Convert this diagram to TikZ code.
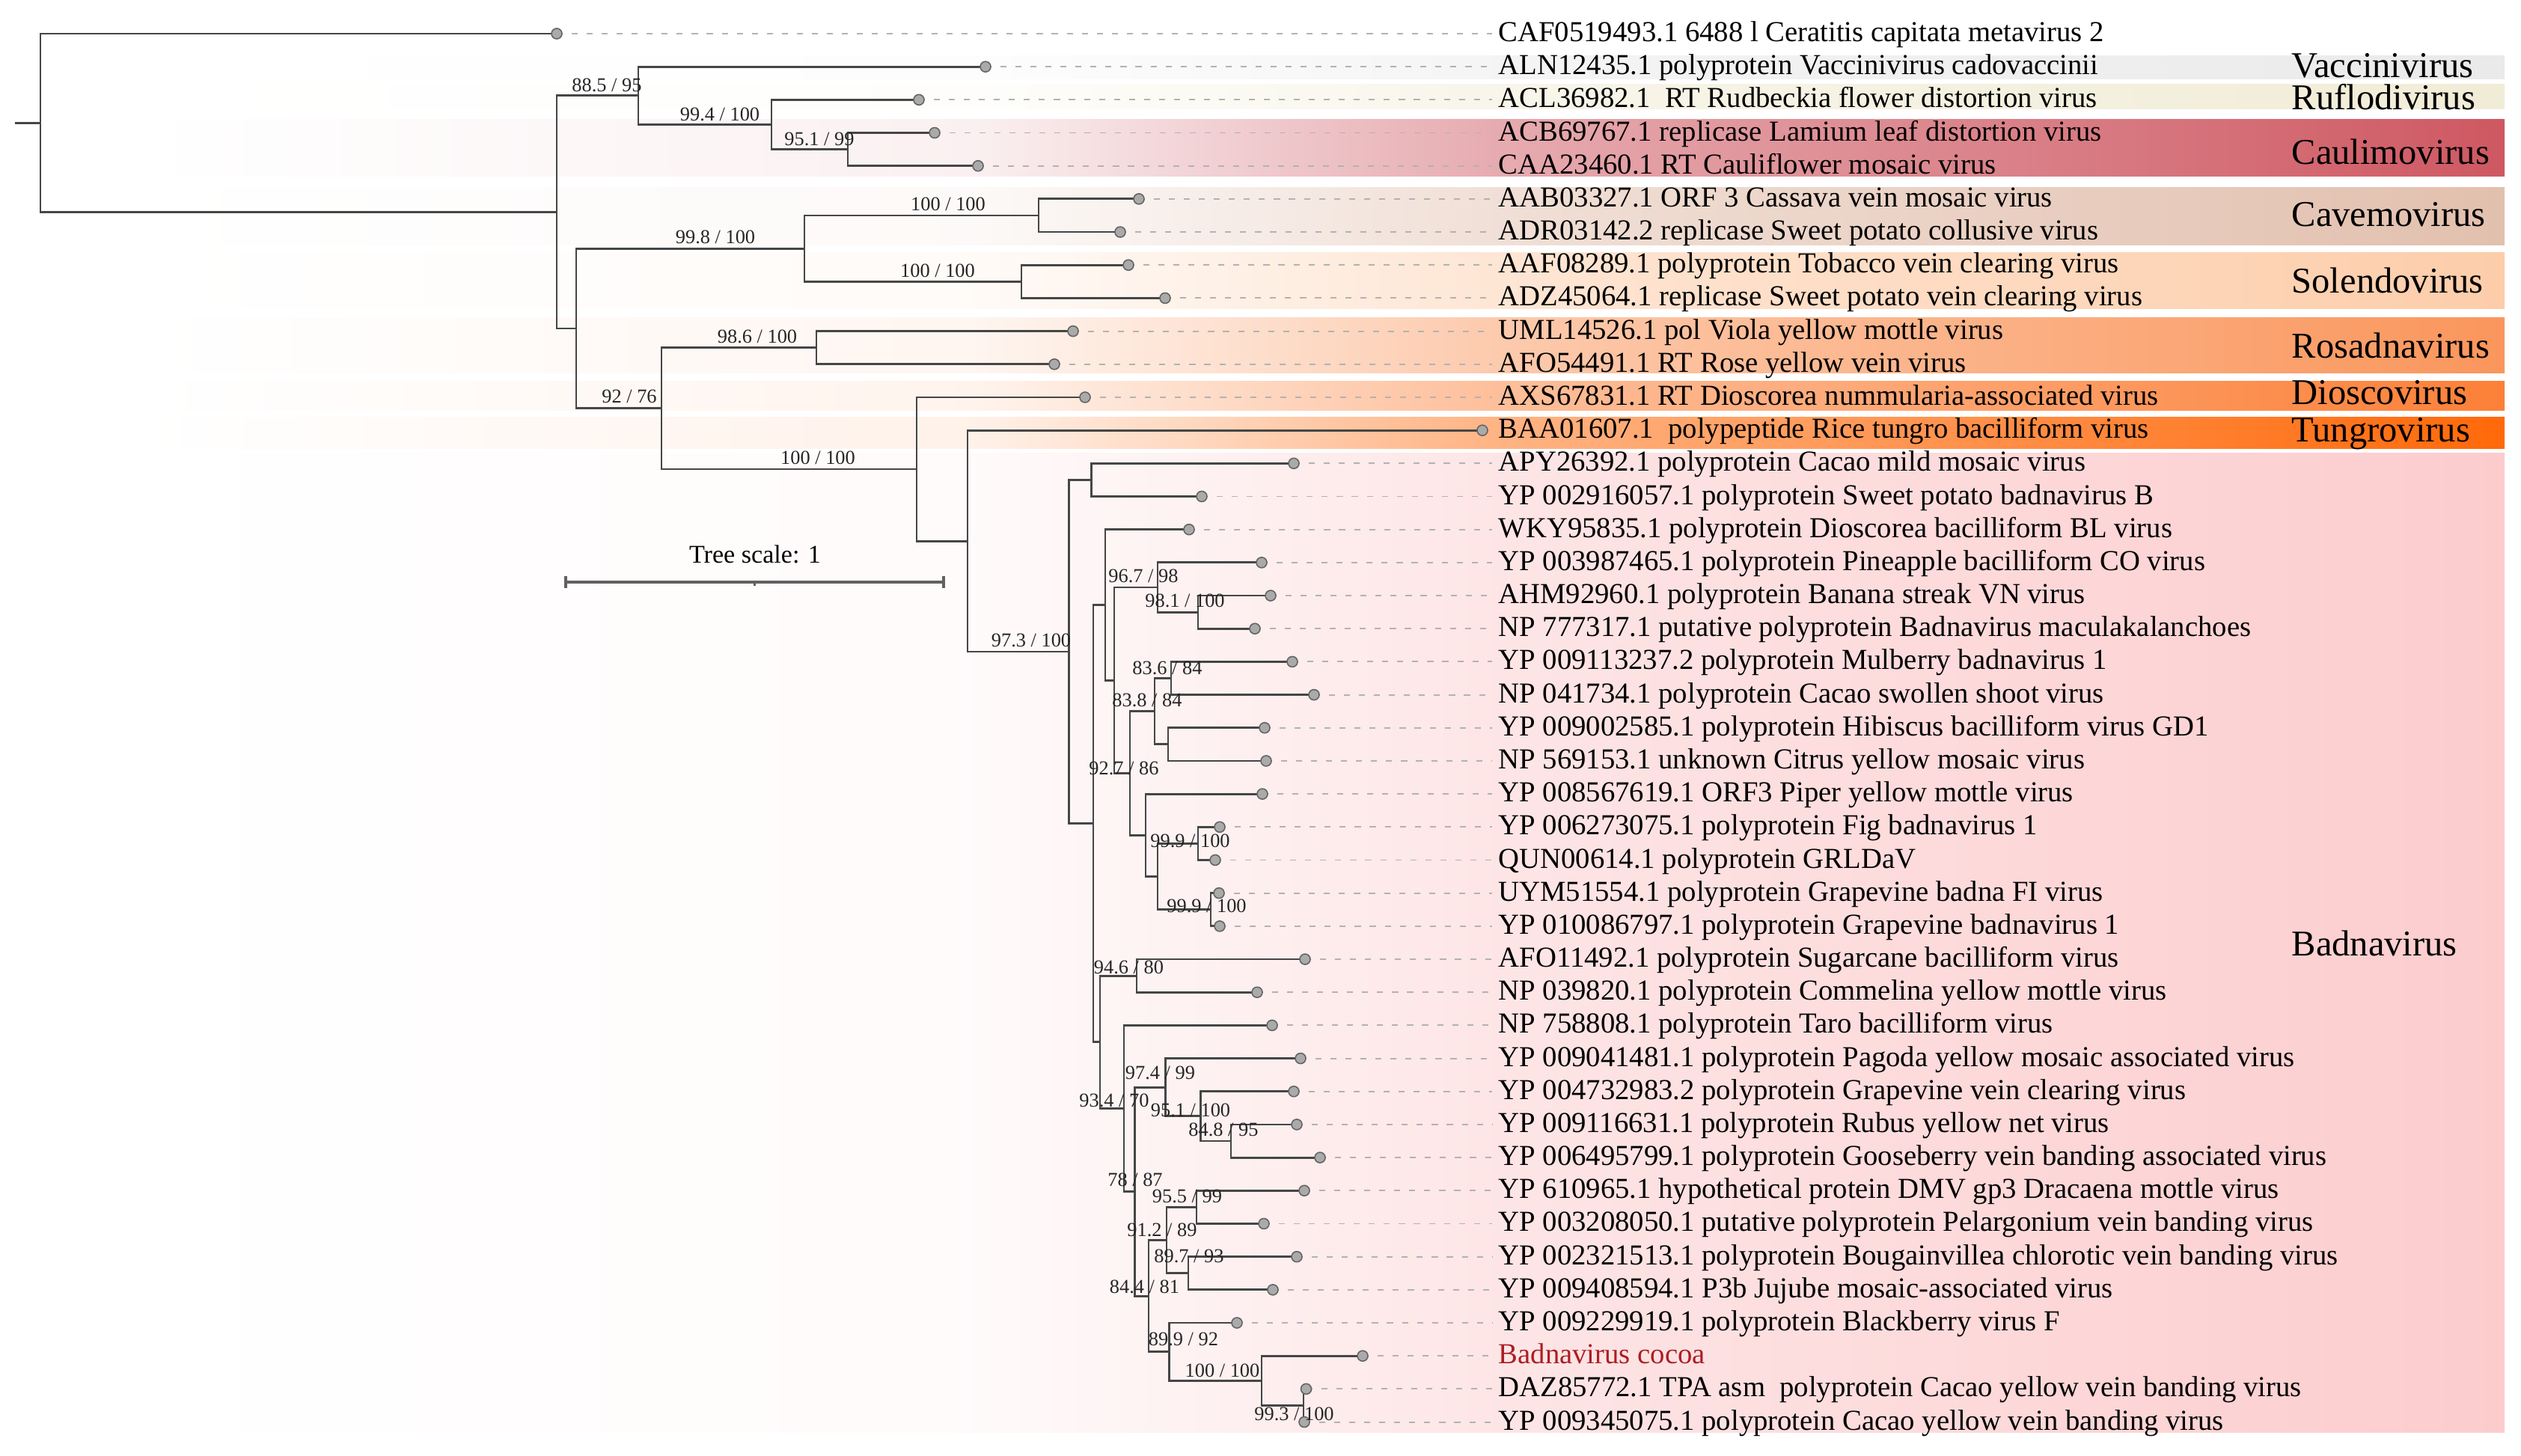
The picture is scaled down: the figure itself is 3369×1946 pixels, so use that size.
\documentclass[tikz,border=0pt]{standalone}
\usepackage{fontspec}
\setmainfont{Liberation Serif}
\usetikzlibrary{calc}
\definecolor{brc}{RGB}{70,70,70}
\definecolor{dotfill}{RGB}{170,170,170}
\definecolor{dotdraw}{RGB}{100,100,100}
\definecolor{cocoa}{RGB}{172,30,36}
\definecolor{cvacc}{RGB}{234,234,234}
\definecolor{crufl}{RGB}{241,236,214}
\definecolor{ccaul}{RGB}{206,88,98}
\definecolor{ccave}{RGB}{226,192,174}
\definecolor{csole}{RGB}{253,205,170}
\definecolor{crosa}{RGB}{250,150,92}
\definecolor{cdios}{RGB}{252,128,56}
\definecolor{ctung}{RGB}{255,105,10}
\definecolor{cbadn}{RGB}{252,204,205}
\newcommand\mkband[2]{%
  \pgfdeclarehorizontalshading{band#1}{100bp}{color(0bp)=(white); color(25bp)=(white);
    color(42.5bp)=(#2!9!white); color(53.5bp)=(#2!50!white); color(75bp)=(#2); color(100bp)=(#2)}}
\mkband{vacc}{cvacc}
\mkband{rufl}{crufl}
\mkband{caul}{ccaul}
\mkband{cave}{ccave}
\mkband{sole}{csole}
\mkband{rosa}{crosa}
\mkband{dios}{cdios}
\mkband{tung}{ctung}
\mkband{badn}{cbadn}
\tikzset{
  br/.style={draw=brc, line width=0.8pt, line join=miter},
  dashl/.style={draw=black!30, line width=0.55pt, dash pattern=on 2.3pt off 3.4pt},
  tipdot/.style={circle, fill=dotfill, draw=dotdraw, line width=0.45pt, inner sep=0pt, minimum size=0.14cm},
  leaf/.style={anchor=base west, inner sep=0pt, font=\fontsize{11}{13}\selectfont},
  supp/.style={anchor=base, inner sep=0pt, text=black!85, font=\fontsize{7.5}{9}\selectfont},
  genus/.style={anchor=base west, inner sep=0pt, font=\fontsize{13.8}{16}\selectfont},
  scalebar/.style={draw=black!62, line width=1.1pt},
}
\newcommand\mkclade[4]{%
  \coordinate (h#1) at (#2,0);
  \coordinate (#1) at ($(h#1 |- #3)!0.5!(h#1 |- #4)$);
  \draw[br] (#3) -- (h#1 |- #3) -- (h#1 |- #4) -- (#4);}
\begin{document}
\begin{tikzpicture}[x=0.01cm,y=-0.01cm]
\useasboundingbox (0,0) rectangle (3369,1946);
\fill[white] (0,0) rectangle (3369,1946);
% clade bands
\foreach \t/\b/\c in {75/106/vacc, 113/146/rufl, 160/236/caul, 251/328/cave, 338/413/sole, 425/499/rosa, 510/549/dios, 558/600/tung, 606/1914/badn}
  \shade[shading=band\c] (200,\t) rectangle (3347,\b);
% leaves
\foreach \i/\dx/\txt in {
0/744/CAF0519493.1 6488 l Ceratitis capitata metavirus 2,
1/1317/ALN12435.1 polyprotein Vaccinivirus cadovaccinii,
2/1228/ACL36982.1\ \ RT Rudbeckia flower distortion virus,
3/1249/ACB69767.1 replicase Lamium leaf distortion virus,
4/1307/CAA23460.1 RT Cauliflower mosaic virus,
5/1522/AAB03327.1 ORF 3 Cassava vein mosaic virus,
6/1497/ADR03142.2 replicase Sweet potato collusive virus,
7/1508/AAF08289.1 polyprotein Tobacco vein clearing virus,
8/1557/ADZ45064.1 replicase Sweet potato vein clearing virus,
9/1434/UML14526.1 pol Viola yellow mottle virus,
10/1409/AFO54491.1 RT Rose yellow vein virus,
11/1450/AXS67831.1 RT Dioscorea nummularia-associated virus,
12/1981/BAA01607.1\ \ polypeptide Rice tungro bacilliform virus,
13/1729/APY26392.1 polyprotein Cacao mild mosaic virus,
14/1606/YP 002916057.1 polyprotein Sweet potato badnavirus B,
15/1589/WKY95835.1 polyprotein Dioscorea bacilliform BL virus,
16/1686/YP 003987465.1 polyprotein Pineapple bacilliform CO virus,
17/1698/AHM92960.1 polyprotein Banana streak VN virus,
18/1677/NP 777317.1 putative polyprotein Badnavirus maculakalanchoes,
19/1727/YP 009113237.2 polyprotein Mulberry badnavirus 1,
20/1756/NP 041734.1 polyprotein Cacao swollen shoot virus,
21/1690/YP 009002585.1 polyprotein Hibiscus bacilliform virus GD1,
22/1692/NP 569153.1 unknown Citrus yellow mosaic virus,
23/1687/YP 008567619.1 ORF3 Piper yellow mottle virus,
24/1630/YP 006273075.1 polyprotein Fig badnavirus 1,
25/1624/QUN00614.1 polyprotein GRLDaV,
26/1629/UYM51554.1 polyprotein Grapevine badna FI virus,
27/1630/YP 010086797.1 polyprotein Grapevine badnavirus 1,
28/1744/AFO11492.1 polyprotein Sugarcane bacilliform virus,
29/1680/NP 039820.1 polyprotein Commelina yellow mottle virus,
30/1700/NP 758808.1 polyprotein Taro bacilliform virus,
31/1738/YP 009041481.1 polyprotein Pagoda yellow mosaic associated virus,
32/1729/YP 004732983.2 polyprotein Grapevine vein clearing virus,
33/1733/YP 009116631.1 polyprotein Rubus yellow net virus,
34/1764/YP 006495799.1 polyprotein Gooseberry vein banding associated virus,
35/1743/YP 610965.1 hypothetical protein DMV gp3 Dracaena mottle virus,
36/1689/YP 003208050.1 putative polyprotein Pelargonium vein banding virus,
37/1733/YP 002321513.1 polyprotein Bougainvillea chlorotic vein banding virus,
38/1701/YP 009408594.1 P3b Jujube mosaic-associated virus,
39/1653/YP 009229919.1 polyprotein Blackberry virus F,
40/1821/{\color{cocoa}Badnavirus cocoa},
41/1745.5/DAZ85772.1 TPA asm\ \ polyprotein Cacao yellow vein banding virus,
42/1743/YP 009345075.1 polyprotein Cacao yellow vein banding virus}{
  \pgfmathsetmacro\yy{45+44.18*\i}
  \coordinate (L\i) at (\dx,\yy);
  \coordinate (E\i) at (1994,\yy);
  \node[leaf] (T\i) at (2002,\yy+10.5) {\txt};
  \draw[dashl] (L\i) -- (E\i);
}
% tree (bottom-up)
\mkclade{n951}{1133}{L3}{L4}
\mkclade{n994}{1031}{L2}{n951}
\mkclade{n885}{853}{L1}{n994}
\mkclade{cA}{1388}{L5}{L6}
\mkclade{cB}{1365}{L7}{L8}
\mkclade{n998}{1075}{cA}{cB}
\mkclade{n986}{1091}{L9}{L10}
\mkclade{n981}{1601}{L17}{L18}
\mkclade{nSixSeven}{1547}{L16}{n981}
\mkclade{n836}{1565}{L19}{L20}
\mkclade{nV}{1561}{L21}{L22}
\mkclade{n838}{1543}{n836}{nV}
\mkclade{nFa}{1601}{L24}{L25}
\mkclade{nFb}{1618}{L26}{L27}
\mkclade{nW}{1547}{nFa}{nFb}
\mkclade{nU}{1531}{L23}{nW}
\mkclade{n927}{1510}{n838}{nU}
\mkclade{n967}{1489}{nSixSeven}{n927}
\mkclade{nR}{1477}{L15}{n967}
\mkclade{n946}{1519}{L28}{L29}
\mkclade{n848}{1645}{L33}{L34}
\mkclade{nFiveOne}{1604.5}{L32}{n848}
\mkclade{n974}{1557.6}{L31}{nFiveOne}
\mkclade{n955}{1599}{L35}{L36}
\mkclade{n897}{1588}{L37}{L38}
\mkclade{n912}{1559}{n955}{n897}
\mkclade{n993}{1742}{L41}{L42}
\mkclade{nHund}{1686}{L40}{n993}
\mkclade{n899}{1562.5}{L39}{nHund}
\mkclade{n844}{1535}{n912}{n899}
\mkclade{n78}{1516.5}{n974}{n844}
\mkclade{nX}{1502}{L30}{n78}
\mkclade{nS}{1470}{n946}{nX}
\mkclade{nQ}{1461}{nR}{nS}
\mkclade{nP}{1458.5}{L13}{L14}
\mkclade{n973}{1428.6}{nP}{nQ}
\mkclade{nT}{1293}{L12}{n973}
\mkclade{nTop}{1225}{L11}{nT}
\mkclade{n92}{884}{n986}{nTop}
\mkclade{nB}{770}{n998}{n92}
\mkclade{nA}{744}{n885}{nB}
\mkclade{root}{54}{L0}{nA}
\coordinate (rootstub) at ($(root)+(-34,0)$);
\draw[br] (rootstub) -- (root);
% tip dots
\foreach \i in {0,...,42} \node[tipdot] (D\i) at (L\i) {};
% support values
\node[supp] (S1) at (811,123) {88.5 / 95};
\node[supp] (S2) at (962,162) {99.4 / 100};
\node[supp] (S3) at (1095,195) {95.1 / 99};
\node[supp] (S4) at (956,326) {99.8 / 100};
\node[supp] (S5) at (1267,282) {100 / 100};
\node[supp] (S6) at (1253,370.5) {100 / 100};
\node[supp] (S7) at (1012,459) {98.6 / 100};
\node[supp] (S8) at (841,539) {92 / 76};
\node[supp] (S9) at (1093,621) {100 / 100};
\node[supp] (S10) at (1378,865) {97.3 / 100};
\node[supp] (S11) at (1528,779) {96.7 / 98};
\node[supp] (S12) at (1583.5,812) {98.1 / 100};
\node[supp] (S13) at (1560,901) {83.6 / 84};
\node[supp] (S14) at (1533,945) {83.8 / 84};
\node[supp] (S15) at (1502,1035) {92.7 / 86};
\node[supp] (S16) at (1590.5,1132.5) {99.9 / 100};
\node[supp] (S17) at (1612.5,1219) {99.9 / 100};
\node[supp] (S18) at (1508.5,1301) {94.6 / 80};
\node[supp] (S19) at (1489,1479) {93.4 / 70};
\node[supp] (S20) at (1550.5,1442) {97.4 / 99};
\node[supp] (S21) at (1591,1492) {95.1 / 100};
\node[supp] (S22) at (1635,1518) {84.8 / 95};
\node[supp] (S23) at (1517,1585) {78 / 87};
\node[supp] (S24) at (1553,1652) {91.2 / 89};
\node[supp] (S25) at (1586.5,1607) {95.5 / 99};
\node[supp] (S26) at (1589,1687.5) {89.7 / 93};
\node[supp] (S27) at (1529.5,1728) {84.4 / 81};
\node[supp] (S28) at (1581.5,1798.5) {89.9 / 92};
\node[supp] (S29) at (1633.5,1840) {100 / 100};
\node[supp] (S30) at (1729.5,1898) {99.3 / 100};
% genus labels
\node[genus] (G1) at (3062,104) {Vaccinivirus};
\node[genus] (G2) at (3062,147) {Ruflodivirus};
\node[genus] (G3) at (3062,220) {Caulimovirus};
\node[genus] (G4) at (3062,303) {Cavemovirus};
\node[genus] (G5) at (3062,392) {Solendovirus};
\node[genus] (G6) at (3062,479) {Rosadnavirus};
\node[genus] (G7) at (3062,541) {Dioscovirus};
\node[genus] (G8) at (3062,591) {Tungrovirus};
\node[genus] (G9) at (3062,1277) {Badnavirus};
% tree scale
\coordinate (sbL) at (756,778);
\coordinate (sbR) at (1261,778);
\coordinate (sbM) at (1008.5,778);
\draw[scalebar] (sbL) -- (sbR);
\draw[scalebar] ($(sbL)+(0,-8)$) -- ($(sbL)+(0,8)$);
\draw[scalebar] ($(sbR)+(0,-8)$) -- ($(sbR)+(0,8)$);
\draw[scalebar, line width=0.6pt] (sbM) -- ($(sbM)+(0,5)$);
\node[anchor=base, inner sep=0pt, font=\fontsize{9.7}{11}\selectfont] (tsc) at (1009,753) {Tree scale: 1};
\end{tikzpicture}
\end{document}
